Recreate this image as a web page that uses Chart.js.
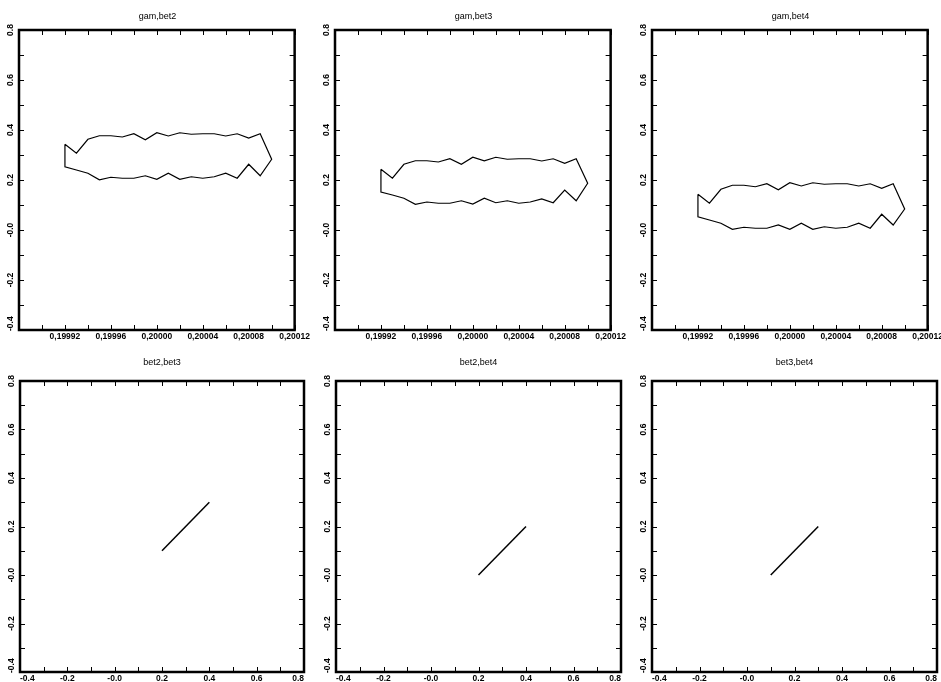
<!DOCTYPE html>
<html>
<head>
<meta charset="utf-8">
<script src="https://cdn.jsdelivr.net/npm/chart.js@4/dist/chart.umd.min.js"></script>
<style>
  html, body { margin: 0; padding: 0; background: #fff; }
  body { width: 941px; height: 682px; overflow: hidden; position: relative; }
  canvas { position: absolute; }
</style>
</head>
<body>
<script>
// ---------------- DATA ----------------
const titles = ['gam,bet2', 'gam,bet3', 'gam,bet4', 'bet2,bet3', 'bet2,bet4', 'bet3,bet4'];

// contour of gam (x) against the beta parameters: upper edge left->right, lower edge right->left, closed
const gamContour = [
  0.19992, 0.19993, 0.19994, 0.19995, 0.19996, 0.19997, 0.19998, 0.19999, 0.20000, 0.20001,
  0.20002, 0.20003, 0.20004, 0.20005, 0.20006, 0.20007, 0.20008, 0.20009, 0.20010,
  0.20009, 0.20008, 0.20007, 0.20006, 0.20005, 0.20004, 0.20003, 0.20002, 0.20001, 0.20000,
  0.19999, 0.19998, 0.19997, 0.19996, 0.19995, 0.19994, 0.19993, 0.19992, 0.19992
];
const bet2Contour = [
  0.343, 0.307, 0.363, 0.377, 0.377, 0.372, 0.385, 0.361, 0.389, 0.376,
  0.389, 0.383, 0.385, 0.385, 0.376, 0.385, 0.368, 0.385, 0.283,
  0.217, 0.263, 0.207, 0.227, 0.213, 0.207, 0.213, 0.203, 0.227, 0.203,
  0.217, 0.207, 0.207, 0.211, 0.201, 0.227, 0.240, 0.253, 0.343
];
const bet3Contour = [
  0.243, 0.207, 0.263, 0.277, 0.277, 0.272, 0.285, 0.263, 0.291, 0.277,
  0.291, 0.283, 0.285, 0.285, 0.276, 0.285, 0.267, 0.285, 0.187,
  0.117, 0.160, 0.109, 0.124, 0.112, 0.107, 0.117, 0.109, 0.127, 0.104,
  0.117, 0.107, 0.107, 0.112, 0.103, 0.127, 0.140, 0.152, 0.243
];
const bet4Contour = [
  0.143, 0.107, 0.163, 0.179, 0.179, 0.173, 0.185, 0.161, 0.189, 0.176,
  0.189, 0.183, 0.185, 0.185, 0.176, 0.185, 0.167, 0.185, 0.084,
  0.020, 0.063, 0.007, 0.027, 0.011, 0.007, 0.013, 0.003, 0.027, 0.003,
  0.020, 0.007, 0.007, 0.011, 0.003, 0.027, 0.040, 0.053, 0.143
];

// beta-beta projections (line segments)
const bet2Line = [0.20, 0.40];
const bet3Line = [0.10, 0.30];
const bet4Line = [0.00, 0.20];

// axis ticks
const gamTickLabels = [0.19992, 0.19996, 0.20000, 0.20004, 0.20008, 0.20012];
const betTickLabels = [-0.4, -0.2, 0.0, 0.2, 0.4, 0.6, 0.8];

// ---------------- LAYOUT ----------------
const boxes = [
  { L: 19,  T: 30,  R: 296, B: 330 },
  { L: 335, T: 30,  R: 612, B: 330 },
  { L: 652, T: 30,  R: 929, B: 330 },
  { L: 20,  T: 381, R: 304, B: 672 },
  { L: 336, T: 381, R: 621, B: 672 },
  { L: 652, T: 381, R: 937, B: 672 }
];
const FONT = "'Liberation Sans', Arial, Helvetica, sans-serif";

function isMajor(v, list) { return list.some(m => Math.abs(m - v) < 1e-9); }
function fmtBet(v) {
  if (Math.abs(v) < 1e-9) return '-0.0';
  return v.toFixed(1);
}
function fmtGam(v) { return v.toFixed(5).replace('.', ','); }

const framePlugin = {
  id: 'frame',
  afterDraw(chart) {
    const { ctx, chartArea: a } = chart;
    const xs = chart.scales.x, ys = chart.scales.y;
    ctx.save();
    ctx.strokeStyle = '#000';
    ctx.lineWidth = 1;
    ctx.beginPath();
    xs.ticks.forEach(t => {
      const px = Math.round(xs.getPixelForValue(t.value)) + 0.5;
      ctx.moveTo(px, a.bottom); ctx.lineTo(px, a.bottom - 5);
      ctx.moveTo(px, a.top); ctx.lineTo(px, a.top + 5);
    });
    ys.ticks.forEach(t => {
      const py = Math.round(ys.getPixelForValue(t.value)) + 0.5;
      ctx.moveTo(a.left, py); ctx.lineTo(a.left + 5, py);
      ctx.moveTo(a.right, py); ctx.lineTo(a.right - 5, py);
    });
    ctx.stroke();
    ctx.lineWidth = 2.5;
    ctx.strokeRect(a.left, a.top, a.right - a.left, a.bottom - a.top);
    // rotated y tick labels
    ctx.fillStyle = '#000';
    ctx.font = 'bold 8.5px ' + FONT;
    ctx.textAlign = 'center';
    ctx.textBaseline = 'middle';
    ys.ticks.forEach(t => {
      if (!isMajor(t.value, betTickLabels)) return;
      const lbl = fmtBet(t.value);
      const w = ctx.measureText(lbl).width;
      let py = ys.getPixelForValue(t.value);
      if (py + w / 2 > a.bottom + 1) py = a.bottom + 1 - w / 2;
      ctx.save();
      ctx.translate(a.left - 8, py);
      ctx.rotate(-Math.PI / 2);
      ctx.fillText(lbl, 0, 0);
      ctx.restore();
    });
    ctx.restore();
  }
};

function makePanel(i, xVals, yVals, isGam) {
  const b = boxes[i];
  const padL = 19, padR = 16;
  const topRow = i < 3;
  const canvasTop = topRow ? 0 : 348;
  const canvasH = topRow ? 348 : 334;
  const xAxisH = topRow ? 18 : 10;
  const titlePadTop = topRow ? 12.5 : 10.5;
  const titleH = 9;
  const titlePadBottom = (b.T - canvasTop) - titlePadTop - titleH;
  const bottomPad = canvasH - (b.B - canvasTop) - xAxisH;
  const w = (b.R - b.L) + padL + padR;

  const c = document.createElement('canvas');
  c.width = w; c.height = canvasH;
  c.style.left = (b.L - padL) + 'px';
  c.style.top = canvasTop + 'px';
  c.style.width = w + 'px';
  c.style.height = canvasH + 'px';
  document.body.appendChild(c);

  const pts = xVals.map((x, k) => ({ x: x, y: yVals[k] }));

  new Chart(c, {
    type: 'scatter',
    data: {
      datasets: [{
        data: pts,
        showLine: true,
        borderColor: '#000',
        backgroundColor: '#000',
        borderWidth: isGam ? 1.2 : 1.5,
        pointRadius: 0,
        fill: false,
        tension: 0
      }]
    },
    options: {
      responsive: false,
      animation: false,
      devicePixelRatio: 1,
      layout: { autoPadding: false, padding: { left: padL, right: padR, top: 0, bottom: bottomPad } },
      plugins: {
        legend: { display: false },
        tooltip: { enabled: false },
        title: {
          display: true,
          text: titles[i],
          color: '#000',
          font: { family: FONT, size: 9, weight: 'normal', lineHeight: 1 },
          padding: { top: titlePadTop, bottom: titlePadBottom }
        }
      },
      scales: {
        x: {
          type: 'linear',
          min: isGam ? 0.19988 : -0.4,
          max: isGam ? 0.20012 : 0.8,
          grid: { display: false, drawTicks: false, tickLength: 0 },
          border: { display: false },
          ticks: {
            stepSize: isGam ? 0.00002 : 0.1,
            autoSkip: false,
            maxRotation: 0,
            minRotation: 0,
            align: isGam ? 'center' : 'inner',
            padding: 2,
            color: '#000',
            font: { family: FONT, size: 8.5, weight: 'bold', lineHeight: 1.2 },
            callback: function (v) {
              if (isGam) return isMajor(v, gamTickLabels) ? fmtGam(v) : '';
              return isMajor(v, betTickLabels) ? fmtBet(v) : '';
            }
          },
          afterFit(s) { s.height = xAxisH; }
        },
        y: {
          type: 'linear',
          min: -0.4,
          max: 0.8,
          grid: { display: false, drawTicks: false },
          border: { display: false },
          ticks: { display: false, stepSize: 0.1 },
          afterFit(s) { s.width = 0; }
        }
      }
    },
    plugins: [framePlugin]
  });
}

makePanel(0, gamContour, bet2Contour, true);
makePanel(1, gamContour, bet3Contour, true);
makePanel(2, gamContour, bet4Contour, true);
makePanel(3, bet2Line, bet3Line, false);
makePanel(4, bet2Line, bet4Line, false);
makePanel(5, bet3Line, bet4Line, false);
</script>
</body>
</html>
